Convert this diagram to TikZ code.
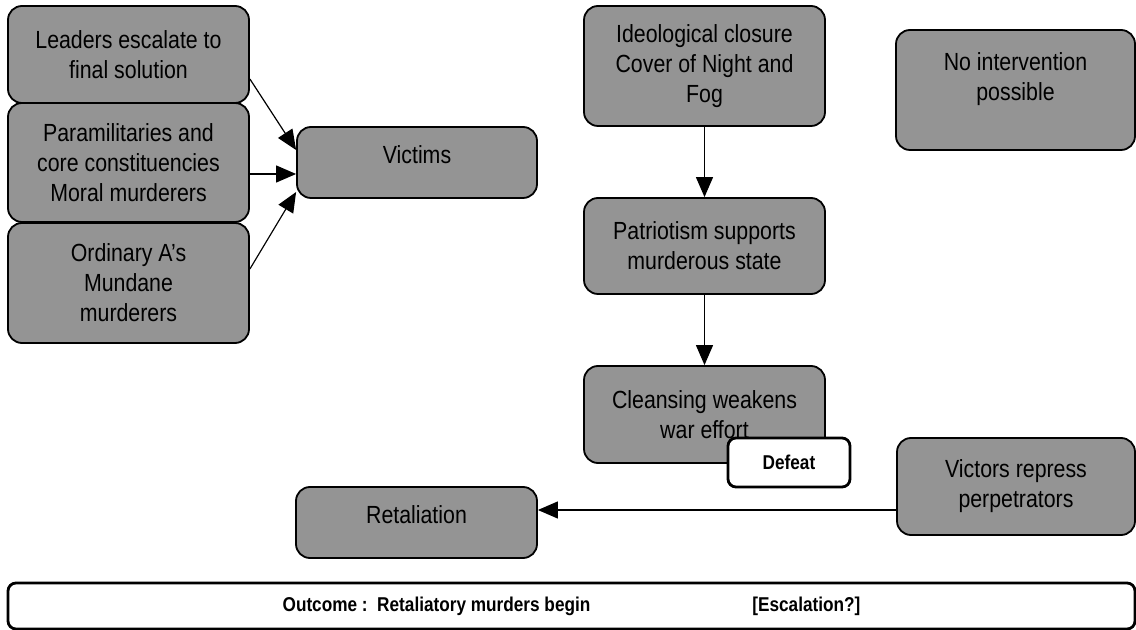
\documentclass[tikz,border=0pt]{standalone}
\usepackage{fontspec}
\setmainfont{Liberation Sans}[FakeStretch=0.86]
\usepackage{xcolor}
\usepackage{tikz}
\usetikzlibrary{arrows.meta}
\definecolor{boxgray}{RGB}{148,148,148}
\newcommand{\boxfont}{\fontsize{12.4}{15}\selectfont}
\newcommand{\notefont}{\fontsize{10}{12}\selectfont\bfseries}

\begin{document}
\begin{tikzpicture}[x=0.5pt,y=-0.5pt,>={Triangle[length=10pt,width=8.5pt]},
    box/.style={draw,fill=boxgray,rounded corners=7pt,align=center,inner sep=0pt,line width=0.9pt,minimum width=120.5pt,font=\boxfont},
    note/.style={draw,fill=white,rounded corners=4pt,inner sep=0pt,line width=1.4pt,font=\notefont},
    high/.style={text height=18.5pt,text depth=17pt}]
    \useasboundingbox (0,0) rectangle (1136,630);
    \node[box,minimum height=48.5pt] (lead) at (128.5,54.5) {Leaders escalate to\\final solution};
    \node[box,minimum height=59.5pt] (para) at (128.5,162.5) {Paramilitaries and\\core constituencies\\Moral murderers};
    \node[box,minimum height=60pt] (ord) at (128.5,283) {Ordinary A’s\\Mundane\\murderers};
    \node[box,high,minimum width=120pt,minimum height=35.5pt] (vic) at (417,162.5) {Victims};
    \node[box,minimum height=60pt] (ideo) at (704.5,66) {Ideological closure\\Cover of Night and\\Fog};
    \node[box,minimum width=119.5pt,minimum height=60pt,text height=35.5pt,text depth=24.5pt] (noint) at (1015.5,90) {No intervention\\possible};
    \node[box,minimum height=48pt] (patr) at (704.5,246) {Patriotism supports\\murderous state};
    \node[box,minimum height=48.5pt] (clean) at (704.5,414.5) {Cleansing weakens\\war effort};
    \node[note,minimum width=61pt,minimum height=24.5pt] (defeat) at (789,462.5) {Defeat};
    \node[box,minimum width=119pt,minimum height=48.5pt] (victor) at (1016,486.5) {Victors repress\\perpetrators};
    \node[box,high,minimum height=35.5pt] (retal) at (416.5,522.5) {Retaliation};
    \node[note,minimum width=563.5pt,minimum height=23pt] (outcome) at (571.5,606) {Outcome :\ \ Retaliatory murders begin\hspace{81pt}[Escalation?]};
    \draw[->,semithick] ([yshift=-12.25pt]lead.east) -- ([yshift=6.25pt]vic.west);
    \draw[->,semithick] ([yshift=-5.75pt]para.east) -- ([yshift=-5.75pt]vic.west);
    \draw[->,semithick] ([yshift=7pt]ord.east) -- ([yshift=-14.75pt]vic.west);
    \draw[->,semithick] (ideo) -- (patr);
    \draw[->,semithick] (patr) -- (clean);
    \draw[->,semithick] ([yshift=-11.75pt]victor.west) -- ([yshift=-11.75pt]victor.west -| retal.east);
\end{tikzpicture}
\end{document}
